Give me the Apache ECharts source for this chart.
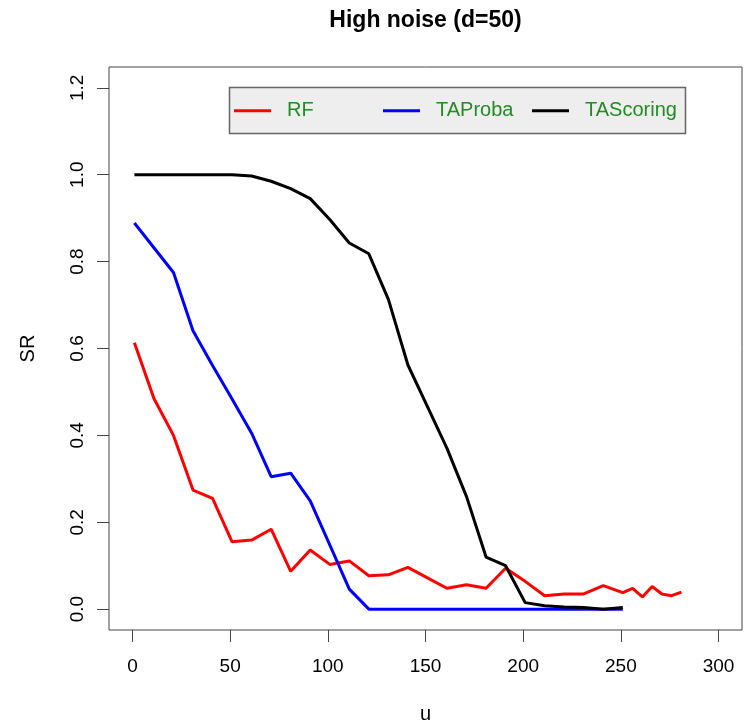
<!DOCTYPE html>
<html>
<head>
<meta charset="utf-8">
<script src="https://cdn.jsdelivr.net/npm/echarts@6/dist/echarts.min.js"></script>
<style>
html,body{margin:0;padding:0;background:#fff;}
#chart{width:745px;height:722px;}
</style>
</head>
<body>
<div id="chart"></div>
<script>
const uMain = [1,11,21,31,41,51,61,71,81,91,101,111,121,131,141,151,161,171,181,191,201,211,221,231,241,251];
const uRF = [1,11,21,31,41,51,61,71,81,91,101,111,121,131,141,151,161,171,181,191,201,211,221,231,241,251,256,261,266,271,276,281];
const rfValues = [0.613,0.485,0.400,0.274,0.255,0.155,0.159,0.184,0.087,0.136,0.103,0.111,0.077,0.079,0.096,0.072,0.048,0.056,0.048,0.094,0.064,0.031,0.035,0.035,0.054,0.038,0.048,0.028,0.052,0.035,0.031,0.039];
const taProbaValues = [0.889,0.832,0.775,0.641,0.561,0.484,0.405,0.305,0.313,0.249,0.148,0.046,0,0,0,0,0,0,0,0,0,0,0,0,0,0];
const taScoringValues = [1.0,1.0,1.0,1.0,1.0,1.0,0.997,0.985,0.968,0.945,0.897,0.843,0.818,0.713,0.562,0.466,0.370,0.259,0.120,0.100,0.015,0.008,0.005,0.004,0.0,0.004];
const xTicks = [0,50,100,150,200,250,300];
const yTicks = [0,0.2,0.4,0.6,0.8,1.0,1.2];
const seriesNames = ['RF','TAProba','TAScoring'];
const seriesColors = ['#ff0000','#0000ff','#000000'];

function pairs(xs, ys){ return xs.map((x,i)=>[x, ys[i]]); }

const chart = echarts.init(document.getElementById('chart'), null, {renderer:'canvas'});
const FONT = '"Liberation Sans", Arial, Helvetica, sans-serif';
const legendLefts = [234, 383, 532];
const legends = seriesNames.map((name, i) => ({
  data: [name],
  left: legendLefts[i], top: 100.7,
  orient: 'horizontal',
  icon: 'rect',
  itemWidth: 37, itemHeight: 3,
  padding: 0,
  formatter: (n)=>'{t|' + n + '}',
  textStyle: {
    color:'#228b22', fontSize:20, fontFamily:FONT,
    rich: {t: {color:'#228b22', fontSize:20, fontFamily:FONT, padding:[0,0,0,11]}}
  }
}));
const option = {
  animation: false,
  backgroundColor: '#ffffff',
  textStyle: {fontFamily: FONT},
  graphic: [
    {type:'text', x:425.5, y:21, style:{text:'High noise (d=50)', fontFamily:FONT, fontSize:23, fontWeight:'bold', fill:'#000', align:'center', verticalAlign:'middle'}},
    {type:'rect', x:229.5, y:87.5, shape:{width:456, height:46}, style:{fill:'#eeeeee', stroke:'#666666', lineWidth:1.5}, z:0}
  ],
  legend: legends,
  grid: {left:109, right:3, top:67, bottom:92, show:true, borderColor:'#444', borderWidth:1, backgroundColor:'transparent', outerBoundsMode:'none', containLabel:false},
  xAxis: {
    type:'value', min:-12, max:312,
    name:'u', nameLocation:'middle', nameGap:74,
    nameTextStyle:{fontSize:20, color:'#000', fontFamily:FONT},
    axisLine:{show:false, onZero:false},
    splitLine:{show:false},
    axisTick:{show:true, customValues:xTicks, length:12, inside:false, lineStyle:{color:'#444', width:1}},
    axisLabel:{customValues:xTicks, fontSize:19, color:'#000', margin:27, fontFamily:FONT}
  },
  yAxis: {
    type:'value', min:-0.048, max:1.248,
    name:'SR', nameLocation:'middle', nameGap:71, nameRotate:90,
    nameTextStyle:{fontSize:20, color:'#000', fontFamily:FONT},
    axisLine:{show:false, onZero:false},
    splitLine:{show:false},
    axisTick:{show:true, customValues:yTicks, length:12, inside:false, lineStyle:{color:'#444', width:1}},
    axisLabel:{customValues:yTicks, rotate:90, fontSize:19, color:'#000', margin:22, fontFamily:FONT,
      formatter:(v)=>v.toFixed(1)}
  },
  series: [
    {name:seriesNames[0], type:'line', data:pairs(uRF, rfValues), symbol:'none', lineStyle:{color:seriesColors[0], width:3}, itemStyle:{color:seriesColors[0]}},
    {name:seriesNames[1], type:'line', data:pairs(uMain, taProbaValues), symbol:'none', lineStyle:{color:seriesColors[1], width:3}, itemStyle:{color:seriesColors[1]}},
    {name:seriesNames[2], type:'line', data:pairs(uMain, taScoringValues), symbol:'none', lineStyle:{color:seriesColors[2], width:3}, itemStyle:{color:seriesColors[2]}}
  ]
};
chart.setOption(option);
</script>
</body>
</html>
